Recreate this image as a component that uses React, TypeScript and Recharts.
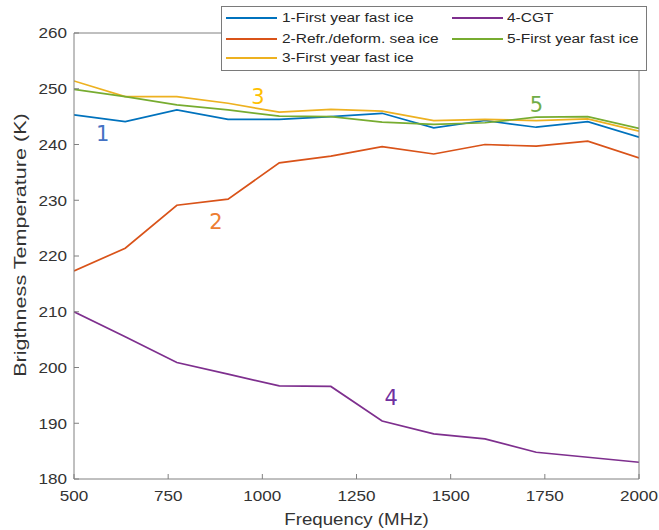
import React from 'react';
import { LineChart, Line, XAxis, YAxis, Legend, ReferenceDot } from 'recharts';

const freqs = [500, 636, 773, 909, 1045, 1182, 1318, 1455, 1591, 1727, 1864, 2000];
const s1 = [245.3, 244.1, 246.2, 244.5, 244.5, 245.0, 245.6, 243.0, 244.3, 243.1, 244.1, 241.3];
const s2 = [217.3, 221.4, 229.1, 230.2, 236.7, 237.9, 239.6, 238.3, 240.0, 239.7, 240.6, 237.6];
const s3 = [251.4, 248.6, 248.6, 247.4, 245.8, 246.3, 246.0, 244.3, 244.5, 244.3, 244.6, 242.4];
const s4 = [210.0, 205.5, 200.9, 198.8, 196.7, 196.6, 190.4, 188.1, 187.2, 184.8, 183.9, 183.0];
const s5 = [249.9, 248.6, 247.1, 246.2, 245.1, 245.0, 244.0, 243.6, 243.9, 244.9, 245.0, 242.9];

const seriesNames = [
  '1-First year fast ice',
  '2-Refr./deform. sea ice',
  '3-First year fast ice',
  '4-CGT',
  '5-First year fast ice',
];
const seriesColors = ['#0072BD', '#D95319', '#EDB120', '#7E2F8E', '#77AC30'];

const xTicks = [500, 750, 1000, 1250, 1500, 1750, 2000];
const yTicks = [180, 190, 200, 210, 220, 230, 240, 250, 260];

const annLabels = ['1', '2', '3', '4', '5'];
const annX = [576, 877, 988, 1342, 1728];
const annY = [242.0, 226.2, 248.7, 194.7, 247.2];
const annColors = ['#4472C4', '#ED7D31', '#FFC000', '#7030A0', '#70AD47'];

const rows = freqs.map((f, i) => ({ f, s1: s1[i], s2: s2[i], s3: s3[i], s4: s4[i], s5: s5[i] }));
const keys = ['s1', 's2', 's3', 's4', 's5'];

const FONT = '"Liberation Sans", Arial, sans-serif';
const AXIS = '#808080';
const TXT = '#333333';

const XTick = (props: any) => {
  const { x, y, payload } = props;
  return (
    <g transform={`translate(${x},${y})`}>
      <text transform="scale(1.14,1)" textAnchor="middle" dy="0.71em" fontSize={15} fontFamily={FONT} fill={TXT}>
        {payload.value}
      </text>
    </g>
  );
};

const YTick = (props: any) => {
  const { x, y, payload } = props;
  return (
    <g transform={`translate(${x},${y})`}>
      <text transform="scale(1.14,1)" textAnchor="end" dy="0.36em" fontSize={15} fontFamily={FONT} fill={TXT}>
        {payload.value}
      </text>
    </g>
  );
};

const XTitle = (props: any) => {
  const vb = props.viewBox || {};
  const cx = vb.x + vb.width / 2;
  const by = vb.y + 46;
  return (
    <g transform={`translate(${cx},${by})`}>
      <text transform="scale(1.17,1)" textAnchor="middle" fontSize={16} fontFamily={FONT} fill={TXT}>
        Frequency (MHz)
      </text>
    </g>
  );
};

const YTitle = (props: any) => {
  const vb = props.viewBox || {};
  const cx = vb.x + 12;
  const cy = vb.y + vb.height / 2 - 11;
  return (
    <g transform={`translate(${cx},${cy}) rotate(-90)`}>
      <text transform="scale(1.35,1)" textAnchor="middle" dy="0.35em" fontSize={16} fontFamily={FONT} fill={TXT}>
        Brigthness Temperature (K)
      </text>
    </g>
  );
};

const legendCols = [
  [0, 1, 2],
  [3, 4],
];
const colLineLeft = [5, 231];
const colTextLeft = [61, 286];
const rowCenters = [12.3, 33, 52.3];

const LegendBox = () => (
  <div
    style={{
      position: 'relative',
      width: 426,
      height: 65,
      boxSizing: 'border-box',
      border: '1px solid #7a7a7a',
      background: '#ffffff',
      fontFamily: FONT,
    }}
  >
    {legendCols.map((col, ci) =>
      col.map((si, ri) => (
        <React.Fragment key={si}>
          <div
            style={{
              position: 'absolute',
              left: colLineLeft[ci] - 1,
              top: rowCenters[ri] - 1 - 1,
              width: 51,
              height: 2,
              background: seriesColors[si],
            }}
          />
          <div
            style={{
              position: 'absolute',
              left: colTextLeft[ci] - 1,
              top: rowCenters[ri] - 1 - 8,
              height: 16,
              lineHeight: '16px',
              fontSize: 12,
              color: '#262626',
              whiteSpace: 'nowrap',
              transform: 'scaleX(1.29)',
              transformOrigin: 'left center',
            }}
          >
            {seriesNames[si]}
          </div>
        </React.Fragment>
      ))
    )}
  </div>
);

const AnnShape = (idx: number) => (props: any) => (
  <text
    x={props.cx}
    y={props.cy}
    textAnchor="middle"
    dy="0.36em"
    fontSize={21}
    fontFamily='"DejaVu Sans", sans-serif'
    fill={annColors[idx]}
  >
    {annLabels[idx]}
  </text>
);

export default function App() {
  return (
    <div style={{ position: 'absolute', left: 0, top: 0, width: 659, height: 530 }}>
      <LineChart
        width={659}
        height={530}
        data={rows}
        margin={{ top: 32, right: 19, left: 8, bottom: 1 }}
      >
        <XAxis
          dataKey="f"
          type="number"
          domain={[500, 2000]}
          ticks={xTicks}
          height={50}
          tickSize={-5}
          tickMargin={16}
          stroke={AXIS}
          tick={<XTick />}
          label={<XTitle />}
          allowDataOverflow
        />
        <XAxis
          xAxisId="top"
          orientation="top"
          type="number"
          dataKey="f"
          domain={[500, 2000]}
          ticks={xTicks}
          height={1}
          tickSize={-5}
          stroke={AXIS}
          tick={false}
          allowDataOverflow
        />
        <YAxis
          type="number"
          domain={[180, 260]}
          ticks={yTicks}
          width={66}
          tickSize={-5}
          tickMargin={12}
          stroke={AXIS}
          tick={<YTick />}
          label={<YTitle />}
          allowDataOverflow
        />
        <YAxis
          yAxisId="right"
          orientation="right"
          type="number"
          domain={[180, 260]}
          ticks={yTicks}
          width={1}
          tickSize={-5}
          stroke={AXIS}
          tick={false}
          allowDataOverflow
        />
        {keys.map((k, i) => (
          <Line
            key={k}
            type="linear"
            dataKey={k}
            name={seriesNames[i]}
            stroke={seriesColors[i]}
            strokeWidth={1.7}
            dot={false}
            activeDot={false}
            isAnimationActive={false}
          />
        ))}
        {annLabels.map((l, i) => (
          <ReferenceDot key={l} x={annX[i]} y={annY[i]} r={0} shape={AnnShape(i)} ifOverflow="visible" />
        ))}
        <Legend
          layout="horizontal"
          verticalAlign="middle"
          align="center"
          content={<LegendBox />}
          wrapperStyle={{ position: 'absolute', left: 220.7, top: 6, width: 426, height: 65 }}
        />
      </LineChart>
    </div>
  );
}
